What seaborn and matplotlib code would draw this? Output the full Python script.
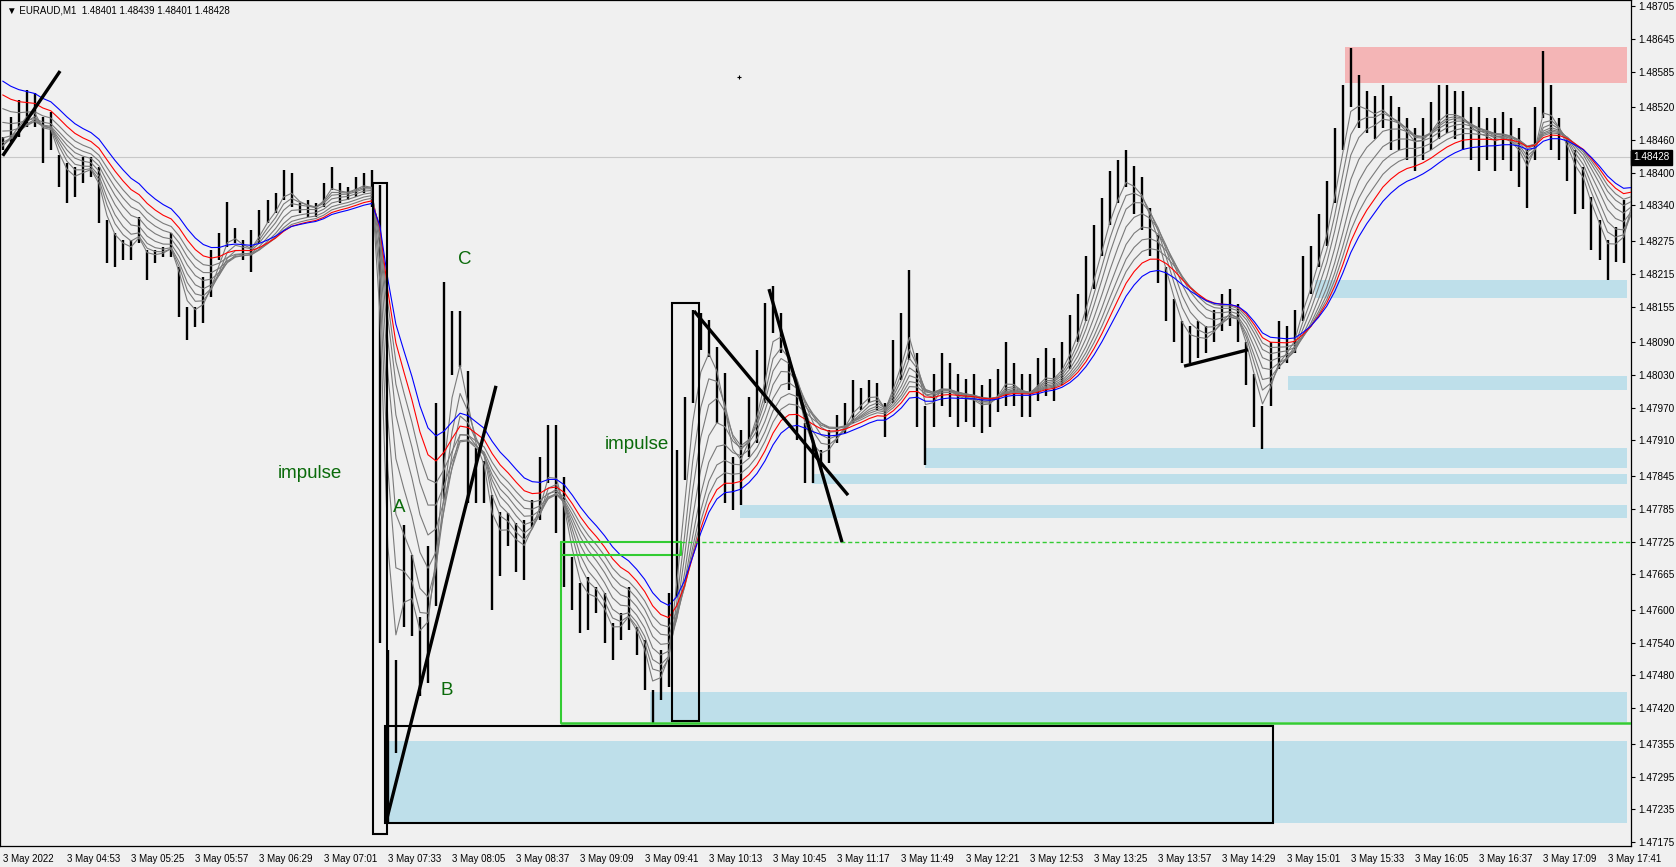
import numpy as np
import pandas as pd
import matplotlib
matplotlib.use("Agg")
import matplotlib.pyplot as plt
from matplotlib.patches import Rectangle
import seaborn as sns

# EURAUD M1, grouped into 4-minute bars from 3 May 2022 04:21
bar_step = 4
bar_high = [
    1.48465, 1.48502, 1.48533, 1.48551, 1.48546, 1.48502, 1.48511, 1.48432, 1.48418, 1.48410,
    1.48429, 1.48429, 1.48410, 1.48313, 1.48290, 1.48277, 1.48277, 1.48319, 1.48259, 1.48259,
    1.48264, 1.48290, 1.48227, 1.48154, 1.48154, 1.48209, 1.48259, 1.48290, 1.48346, 1.48299,
    1.48277, 1.48295, 1.48332, 1.48350, 1.48363, 1.48405, 1.48399, 1.48345, 1.48350, 1.48345,
    1.48381, 1.48410, 1.48381, 1.48374, 1.48392, 1.48399, 1.48405, 1.48377, 1.47527, 1.47508,
    1.47755, 1.47700, 1.47587, 1.47717, 1.47979, 1.48200, 1.48147, 1.48147, 1.48037, 1.47896,
    1.47872, 1.47810, 1.47779, 1.47777, 1.47759, 1.47764, 1.47801, 1.47880, 1.47938, 1.47938,
    1.47843, 1.47697, 1.47649, 1.47660, 1.47642, 1.47631, 1.47576, 1.47594, 1.47642, 1.47569,
    1.47545, 1.47453, 1.47527, 1.47631, 1.47893, 1.47990, 1.48149, 1.48143, 1.48130, 1.48081,
    1.48033, 1.47880, 1.47929, 1.47990, 1.48076, 1.48162, 1.48193, 1.48143, 1.48063, 1.48015,
    1.47942, 1.47911, 1.47893, 1.47929, 1.47957, 1.47979, 1.48021, 1.48006, 1.48021, 1.48015,
    1.47979, 1.48094, 1.48143, 1.48222, 1.48071, 1.47973, 1.48031, 1.48071, 1.48051, 1.48031,
    1.48022, 1.48031, 1.48012, 1.48022, 1.48041, 1.48090, 1.48051, 1.48031, 1.48031, 1.48061,
    1.48080, 1.48061, 1.48090, 1.48139, 1.48178, 1.48247, 1.48305, 1.48354, 1.48403, 1.48423,
    1.48442, 1.48413, 1.48393, 1.48335, 1.48286, 1.48227, 1.48168, 1.48129, 1.48119, 1.48129,
    1.48119, 1.48149, 1.48178, 1.48188, 1.48159, 1.48090, 1.48031, 1.47973, 1.48090, 1.48129,
    1.48119, 1.48149, 1.48247, 1.48266, 1.48325, 1.48384, 1.48481, 1.48560, 1.48628, 1.48579,
    1.48550, 1.48540, 1.48560, 1.48540, 1.48520, 1.48501, 1.48481, 1.48501, 1.48530, 1.48560,
    1.48560, 1.48550, 1.48550, 1.48520, 1.48520, 1.48501, 1.48501, 1.48511, 1.48501, 1.48481,
    1.48442, 1.48520, 1.48622, 1.48560, 1.48501, 1.48462, 1.48442, 1.48411, 1.48356, 1.48313,
    1.48276, 1.48301, 1.48350, 1.48439,
]
bar_low = [
    1.48442, 1.48456, 1.48465, 1.48484, 1.48484, 1.48418, 1.48442, 1.48374, 1.48345, 1.48356,
    1.48381, 1.48392, 1.48308, 1.48235, 1.48227, 1.48240, 1.48240, 1.48271, 1.48204, 1.48235,
    1.48246, 1.48246, 1.48136, 1.48094, 1.48118, 1.48125, 1.48173, 1.48240, 1.48264, 1.48271,
    1.48240, 1.48218, 1.48271, 1.48308, 1.48326, 1.48350, 1.48337, 1.48326, 1.48319, 1.48319,
    1.48337, 1.48368, 1.48345, 1.48350, 1.48356, 1.48363, 1.48337, 1.47539, 1.47210, 1.47338,
    1.47569, 1.47552, 1.47442, 1.47466, 1.47607, 1.47803, 1.48030, 1.48044, 1.47796, 1.47796,
    1.47796, 1.47600, 1.47662, 1.47717, 1.47669, 1.47655, 1.47752, 1.47764, 1.47832, 1.47741,
    1.47642, 1.47600, 1.47558, 1.47563, 1.47594, 1.47539, 1.47508, 1.47545, 1.47563, 1.47517,
    1.47453, 1.47393, 1.47435, 1.47459, 1.47624, 1.47838, 1.47979, 1.48076, 1.48063, 1.47942,
    1.47796, 1.47783, 1.47792, 1.47880, 1.47905, 1.47979, 1.48107, 1.48070, 1.48002, 1.47911,
    1.47832, 1.47832, 1.47856, 1.47869, 1.47905, 1.47924, 1.47942, 1.47966, 1.47979, 1.47966,
    1.47916, 1.47979, 1.48021, 1.48058, 1.47934, 1.47865, 1.47934, 1.47973, 1.47953, 1.47934,
    1.47943, 1.47934, 1.47924, 1.47934, 1.47963, 1.47973, 1.47973, 1.47953, 1.47953, 1.47982,
    1.47992, 1.47982, 1.48012, 1.48041, 1.48090, 1.48129, 1.48188, 1.48247, 1.48305, 1.48344,
    1.48374, 1.48325, 1.48296, 1.48247, 1.48198, 1.48129, 1.48090, 1.48051, 1.48051, 1.48061,
    1.48071, 1.48090, 1.48110, 1.48119, 1.48090, 1.48012, 1.47934, 1.47895, 1.47973, 1.48041,
    1.48051, 1.48071, 1.48129, 1.48178, 1.48227, 1.48266, 1.48344, 1.48442, 1.48520, 1.48481,
    1.48472, 1.48462, 1.48481, 1.48442, 1.48442, 1.48423, 1.48403, 1.48423, 1.48442, 1.48462,
    1.48472, 1.48462, 1.48442, 1.48423, 1.48403, 1.48423, 1.48403, 1.48423, 1.48403, 1.48374,
    1.48335, 1.48423, 1.48501, 1.48442, 1.48423, 1.48384, 1.48325, 1.48333, 1.48258, 1.48241,
    1.48204, 1.48237, 1.48235, 1.48330,
]

# moving averages: period in minutes and value at the left edge of the chart
grey_periods = [10, 15, 20, 27, 35, 43, 51]
grey_start = [1.48442, 1.48447, 1.48456, 1.48467, 1.48482, 1.48500, 1.48528]
red_period, red_start = 60, 1.48555
blue_period, blue_start = 72, 1.48581

last_price = 1.48428
header = "\u25bc EURAUD,M1  1.48401 1.48439 1.48401 1.48428"

y_ticks = [1.48705, 1.48645, 1.48585, 1.48520, 1.48460, 1.48400, 1.48340, 1.48275, 1.48215,
           1.48155, 1.48090, 1.48030, 1.47970, 1.47910, 1.47845, 1.47785, 1.47725, 1.47665,
           1.47600, 1.47540, 1.47480, 1.47420, 1.47355, 1.47295, 1.47235, 1.47175]
x_tick_minutes = list(range(0, 801, 32))
x_tick_labels = ["3 May 2022", "3 May 04:53", "3 May 05:25", "3 May 05:57", "3 May 06:29",
                 "3 May 07:01", "3 May 07:33", "3 May 08:05", "3 May 08:37", "3 May 09:09",
                 "3 May 09:41", "3 May 10:13", "3 May 10:45", "3 May 11:17", "3 May 11:49",
                 "3 May 12:21", "3 May 12:53", "3 May 13:25", "3 May 13:57", "3 May 14:29",
                 "3 May 15:01", "3 May 15:33", "3 May 16:05", "3 May 16:37", "3 May 17:09",
                 "3 May 17:41"]

# drawn objects: (start minute, low, high) etc., minutes counted from 04:21
support_zones = [(191.6, 1.47210, 1.47360), (322.7, 1.47395, 1.47450), (367.6, 1.47768, 1.47792),
                 (403.4, 1.47830, 1.47849), (459.8, 1.47860, 1.47896), (640.7, 1.48002, 1.48028),
                 (654.2, 1.48171, 1.48204)]
resistance_zone = (669.2, 1.48564, 1.48630)
zone_end = 809.7
black_boxes = [(184.6, 191.6, 1.47190, 1.48381), (190.6, 633.3, 1.47210, 1.47387),
               (333.7, 347.1, 1.47397, 1.48162)]
trend_lines = [((0.0, 1.48431), (28.6, 1.48586)), ((191.1, 1.47212), (245.9, 1.48010)),
               ((344.6, 1.48147), (421.4, 1.47810)), ((382.0, 1.48187), (418.4, 1.47724)),
               ((588.9, 1.48046), (620.8, 1.48076))]
wave_labels = [("impulse", 153.2, 1.47850), ("impulse", 316.2, 1.47903), ("A", 197.6, 1.47788),
               ("B", 221.5, 1.47453), ("C", 230.5, 1.48242)]
green_left, green_top, green_bottom = 278.3, 1.47725, 1.47393
green_inner_right, green_inner_bottom = 338.1, 1.47700
dot = (367.0, 1.48575)

BG = "#F0F0F0"
sns.set_theme(style="white")
plt.rcParams["font.family"] = ["Liberation Sans", "DejaVu Sans"]

high = np.array(bar_high)
low = np.array(bar_low)
bar_x = np.arange(len(high)) * bar_step
mid = (high + low) / 2


def ema(start, period):
    a = 1 - (1 - 2 / (period + 1)) ** bar_step
    s = pd.Series(np.r_[start, mid])
    return s.ewm(alpha=a, adjust=False).mean().to_numpy()[1:]


fig = plt.figure(figsize=(16.76, 8.67), dpi=100, facecolor=BG)
ax = fig.add_axes([0, 21 / 867, 1631 / 1676, 846 / 867])
ax.set_facecolor(BG)
x_right = 811.7
ax.set_xlim(-1.35, x_right)
ax.set_ylim(1.47168, 1.48716)

ax.axhline(last_price, color="#C8C8C8", lw=0.8, zorder=1)

for x0, lo, hi in support_zones:
    ax.add_patch(Rectangle((x0, lo), zone_end - x0, hi - lo, fc="#BEDFEA", ec="none", zorder=1))
x0, lo, hi = resistance_zone
ax.add_patch(Rectangle((x0, lo), zone_end - x0, hi - lo, fc="#F4B5B6", ec="none", zorder=1))

ax.vlines(bar_x, low, high, color="black", lw=1.7, zorder=3)

for period, start in zip(grey_periods, grey_start):
    sns.lineplot(x=bar_x, y=ema(start, period), color="#7A7A7A", lw=0.8, ax=ax, zorder=4)
sns.lineplot(x=bar_x, y=ema(red_start, red_period), color="red", lw=0.8, ax=ax, zorder=4)
sns.lineplot(x=bar_x, y=ema(blue_start, blue_period), color="blue", lw=0.8, ax=ax, zorder=4)

# green box with the dashed level
g = "#33CC33"
ax.plot([green_left, green_left], [green_bottom, green_top], color=g, lw=1.5, zorder=5)
ax.plot([green_left, x_right], [green_bottom, green_bottom], color=g, lw=1.8, zorder=5)
ax.plot([green_left, green_inner_right], [green_top, green_top], color=g, lw=1.5, zorder=5)
ax.plot([green_inner_right, x_right], [green_top, green_top], color=g, lw=1.0, ls=(0, (3, 2)), zorder=5)
ax.plot([green_left, green_inner_right, green_inner_right],
        [green_inner_bottom, green_inner_bottom, green_top], color=g, lw=1.5, zorder=5)

for xa, xb, lo, hi in black_boxes:
    ax.add_patch(Rectangle((xa, lo), xb - xa, hi - lo, fc="none", ec="black", lw=1.5, zorder=6))

for (xa, ya), (xb, yb) in trend_lines:
    ax.plot([xa, xb], [ya, yb], color="black", lw=2.4, solid_capstyle="butt", zorder=7)

for txt, xt, yt in wave_labels:
    ax.text(xt, yt, txt, color="#0A6A0A", fontsize=13.5, ha="center", va="center", zorder=8)

ax.plot(*dot, marker="+", ms=3, mew=0.8, color="black", zorder=8)

ax.text(0.0043, 0.987, header, transform=ax.transAxes, fontsize=7, va="center", ha="left",
        color="black")

# axes in MT4 style
for sp in ax.spines.values():
    sp.set_visible(True)
    sp.set_color("black")
    sp.set_linewidth(0.9)
ax.yaxis.tick_right()
ax.set_yticks(y_ticks)
ax.set_yticklabels([f"{v:.5f}" for v in y_ticks])
ax.set_xticks(x_tick_minutes)
ax.set_xticklabels(x_tick_labels)
plt.setp(ax.get_xticklabels(), ha="left")
ax.tick_params(axis="y", direction="out", length=3, width=0.8, pad=2, labelsize=7.2, colors="black")
ax.tick_params(axis="x", direction="out", length=4, width=0.8, pad=2, labelsize=7.0, colors="black")
ax.set_xlabel("")
ax.set_ylabel("")
ax.grid(False)

ax.text(1.0015, last_price, f"{last_price:.5f}", transform=ax.get_yaxis_transform(), color="white",
        fontsize=7.2, va="center", ha="left", clip_on=False, zorder=10,
        bbox=dict(boxstyle="square,pad=0.25", fc="black", ec="black"))

fig.savefig("out.png", dpi=100, facecolor=BG)
